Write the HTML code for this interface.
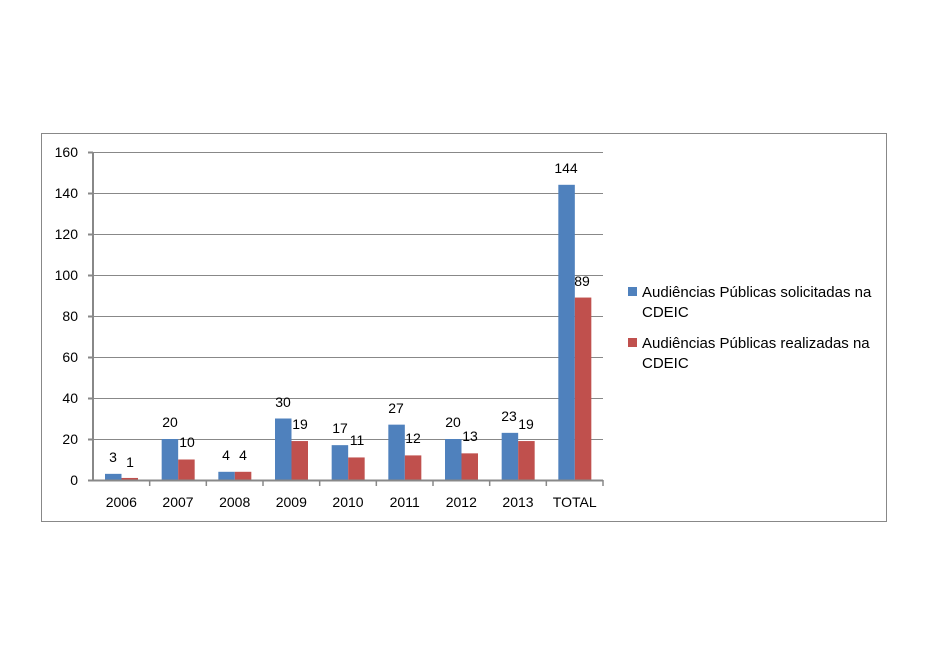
<!DOCTYPE html>
<html><head><style>body{margin:0;background:#fff}svg{display:block}text{font-family:"Liberation Sans",sans-serif;font-size:14px;fill:#000}.lg{font-size:15px}</style></head><body>
<svg width="928" height="656" xmlns="http://www.w3.org/2000/svg">
<rect x="41.5" y="133.5" width="845" height="388" fill="#fff" stroke="#888" stroke-width="1"/>
<g stroke="#888" stroke-width="1">
<line x1="93" x2="603" y1="152.5" y2="152.5"/>
<line x1="93" x2="603" y1="193.5" y2="193.5"/>
<line x1="93" x2="603" y1="234.5" y2="234.5"/>
<line x1="93" x2="603" y1="275.5" y2="275.5"/>
<line x1="93" x2="603" y1="316.5" y2="316.5"/>
<line x1="93" x2="603" y1="357.5" y2="357.5"/>
<line x1="93" x2="603" y1="398.5" y2="398.5"/>
<line x1="93" x2="603" y1="439.5" y2="439.5"/>
</g>
<g fill="#4f81bd">
<rect x="105" y="473.85" width="16.5" height="6.15"/>
<rect x="161.67" y="439" width="16.5" height="41"/>
<rect x="218.33" y="471.8" width="16.5" height="8.2"/>
<rect x="275" y="418.5" width="16.5" height="61.5"/>
<rect x="331.67" y="445.15" width="16.5" height="34.85"/>
<rect x="388.33" y="424.65" width="16.5" height="55.35"/>
<rect x="445" y="439" width="16.5" height="41"/>
<rect x="501.67" y="432.85" width="16.5" height="47.15"/>
<rect x="558.33" y="184.8" width="16.5" height="295.2"/>
</g>
<g fill="#c0504d">
<rect x="121.5" y="477.95" width="16.5" height="2.05"/>
<rect x="178.17" y="459.5" width="16.5" height="20.5"/>
<rect x="234.83" y="471.8" width="16.5" height="8.2"/>
<rect x="291.5" y="441.05" width="16.5" height="38.95"/>
<rect x="348.17" y="457.45" width="16.5" height="22.55"/>
<rect x="404.83" y="455.4" width="16.5" height="24.6"/>
<rect x="461.5" y="453.35" width="16.5" height="26.65"/>
<rect x="518.17" y="441.05" width="16.5" height="38.95"/>
<rect x="574.83" y="297.55" width="16.5" height="182.45"/>
</g>
<g stroke="#888" stroke-width="2">
<line x1="93" x2="93" y1="152" y2="481"/>
<line x1="88" x2="603" y1="480.5" y2="480.5"/>
<line x1="88" x2="93" y1="152.5" y2="152.5"/><line x1="88" x2="93" y1="193.5" y2="193.5"/><line x1="88" x2="93" y1="234.5" y2="234.5"/><line x1="88" x2="93" y1="275.5" y2="275.5"/><line x1="88" x2="93" y1="316.5" y2="316.5"/><line x1="88" x2="93" y1="357.5" y2="357.5"/><line x1="88" x2="93" y1="398.5" y2="398.5"/><line x1="88" x2="93" y1="439.5" y2="439.5"/>
</g>
<g stroke="#888" stroke-width="1.5">
<line x1="149.67" x2="149.67" y1="480" y2="486"/><line x1="206.33" x2="206.33" y1="480" y2="486"/><line x1="263" x2="263" y1="480" y2="486"/><line x1="319.67" x2="319.67" y1="480" y2="486"/><line x1="376.33" x2="376.33" y1="480" y2="486"/><line x1="433" x2="433" y1="480" y2="486"/><line x1="489.67" x2="489.67" y1="480" y2="486"/><line x1="546.33" x2="546.33" y1="480" y2="486"/><line x1="603" x2="603" y1="480" y2="486"/>
</g>
<g text-anchor="end">
<text x="78" y="157">160</text><text x="78" y="198">140</text><text x="78" y="239">120</text><text x="78" y="280">100</text><text x="78" y="321">80</text><text x="78" y="362">60</text><text x="78" y="403">40</text><text x="78" y="444">20</text><text x="78" y="485">0</text>
</g>
<g text-anchor="middle">
<text x="113" y="462">3</text><text x="130" y="467">1</text>
<text x="170" y="427">20</text><text x="187" y="447">10</text>
<text x="226" y="460">4</text><text x="243" y="460">4</text>
<text x="283" y="407">30</text><text x="300" y="429">19</text>
<text x="340" y="433">17</text><text x="357" y="445">11</text>
<text x="396" y="413">27</text><text x="413" y="443">12</text>
<text x="453" y="427">20</text><text x="470" y="441">13</text>
<text x="509" y="421">23</text><text x="526" y="429">19</text>
<text x="566" y="173">144</text><text x="582" y="286">89</text>
</g>
<g text-anchor="middle">
<text x="121.3" y="507">2006</text><text x="178" y="507">2007</text><text x="234.7" y="507">2008</text><text x="291.3" y="507">2009</text><text x="348" y="507">2010</text><text x="404.7" y="507">2011</text><text x="461.3" y="507">2012</text><text x="518" y="507">2013</text><text x="574.7" y="507">TOTAL</text>
</g>
<rect x="628" y="287" width="9" height="9" fill="#4f81bd"/>
<text class="lg" x="642" y="297">Audiências Públicas solicitadas na</text>
<text class="lg" x="642" y="317">CDEIC</text>
<rect x="628" y="338" width="9" height="9" fill="#c0504d"/>
<text class="lg" x="642" y="348">Audiências Públicas realizadas na</text>
<text class="lg" x="642" y="368">CDEIC</text>
</svg>
</body></html>
